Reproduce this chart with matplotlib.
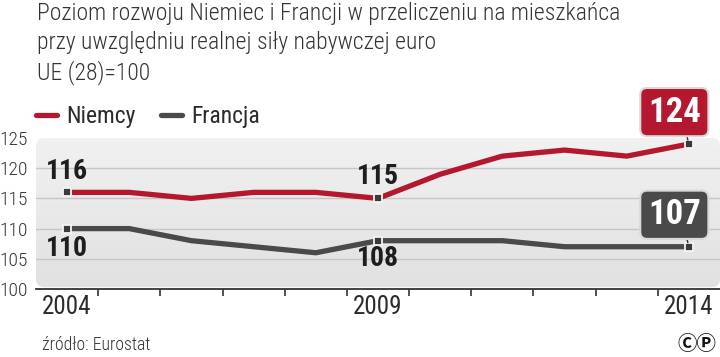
import numpy as np
import matplotlib
matplotlib.use("Agg")
import matplotlib.pyplot as plt
from matplotlib.patches import FancyBboxPatch

# dane
years = [2004, 2005, 2006, 2007, 2008, 2009, 2010, 2011, 2012, 2013, 2014]
niemcy = [116, 116, 115, 116, 116, 115, 119, 122, 123, 122, 124]
francja = [110, 110, 108, 107, 106, 108, 108, 108, 107, 107, 107]
yticks = [100, 105, 110, 115, 120, 125]
xlabels = [2004, 2009, 2014]
marked = [0, 5, 10]   # punkty z etykietami

title = ("Poziom rozwoju Niemiec i Francji w przeliczeniu na mieszkańca\n"
         "przy uwzględniu realnej siły nabywczej euro\n"
         "UE (28)=100")

RED = "#b3182f"
GREY = "#4a4a4a"
TXT = "#2b2b2b"
FONT = ["Roboto Condensed", "DejaVu Sans"]

plt.rcParams["font.family"] = FONT

fig = plt.figure(figsize=(7.2, 3.57), dpi=100)
ax = fig.add_axes([0.05, 68 / 357, 0.95, 151 / 357])

# tło z gradientem i zaokrąglonymi rogami
box = FancyBboxPatch((0, 0.012), 1, 0.988, boxstyle="round,pad=0,rounding_size=0.012",
                     mutation_aspect=4.5, transform=ax.transAxes,
                     facecolor="none", edgecolor="none")
ax.add_patch(box)
grad = np.linspace(0, 1, 100).reshape(-1, 1)
bg = ax.imshow(grad, extent=(0, 1, 0, 1), transform=ax.transAxes, aspect="auto",
               cmap=matplotlib.colors.LinearSegmentedColormap.from_list("g", ["#f1f1f1", "#e1e1e1"]),
               origin="upper", zorder=0)
bg.set_clip_path(box)

l1, = ax.plot(years, niemcy, color=RED, lw=3.8, solid_joinstyle="round",
              solid_capstyle="round", zorder=3, label="Niemcy")
l2, = ax.plot(years, francja, color=GREY, lw=3.8, solid_joinstyle="round",
              solid_capstyle="round", zorder=3, label="Francja")
for s in (niemcy, francja):
    ax.plot([years[i] for i in marked], [s[i] for i in marked], ls="none", marker="s",
            ms=6, mfc="#3a3a3a", mec="#f4f4f4", mew=1.3, zorder=4)

ax.set_xlim(2003.5, 2014.5)
ax.set_ylim(100, 125)
ax.set_yticks(yticks)
ax.set_xticks(xlabels)
ax.set_xticks([y + 0.5 for y in years[:-1]], minor=True)
ax.tick_params(axis="y", length=0, pad=6, labelsize=14, labelcolor="#333333")
ax.tick_params(axis="x", which="major", length=0, pad=4, labelsize=18, labelcolor=TXT)
ax.tick_params(axis="x", which="minor", length=5, width=1.2, color="#333333", direction="out")
for lab in ax.get_yticklabels():
    lab.set_fontweight("light")

ax.grid(axis="y", color="#c6c6c6", lw=1, zorder=1)
gl = ax.yaxis.get_gridlines()
gl[0].set_visible(False)
gl[-1].set_visible(False)
for g in gl:
    g.set_clip_path(box)

for sp in ("top", "right", "left"):
    ax.spines[sp].set_visible(False)
ax.spines["bottom"].set_color("#333333")
ax.spines["bottom"].set_linewidth(1.3)

# etykiety wartości
lab_kw = dict(textcoords="offset points", ha="center", va="center",
              fontsize=20, fontweight="bold", color="#1e1e1e", zorder=5)
ax.annotate(str(niemcy[0]), (years[0], niemcy[0]), xytext=(0, 15), **lab_kw)
ax.annotate(str(francja[0]), (years[0], francja[0]), xytext=(0, -14), **lab_kw)
ax.annotate(str(niemcy[5]), (years[5], niemcy[5]), xytext=(0, 16), **lab_kw)
ax.annotate(str(francja[5]), (years[5], francja[5]), xytext=(0, -13), **lab_kw)

for s, c in ((niemcy, RED), (francja, GREY)):
    ax.annotate(str(s[-1]), (years[-1], s[-1]), xytext=(-10.5, 23),
                textcoords="offset points", ha="center", va="center",
                fontsize=25, fontweight="bold", color="white", zorder=6,
                bbox=dict(boxstyle="round,pad=0.22,rounding_size=0.2", fc=c,
                          ec="#d9d9d9", lw=1.5),
                arrowprops=dict(arrowstyle="-", color="#333333", lw=1,
                                relpos=(0.70, 0), shrinkA=0, shrinkB=3))

fig.legend(handles=[l1, l2], loc="center left", bbox_to_anchor=(36 / 720, 1 - 117 / 357),
           frameon=False, ncol=2, fontsize=17, handlelength=0.9, handletextpad=0.4,
           columnspacing=1.05, borderpad=0, borderaxespad=0, labelcolor=TXT)

fig.text(37 / 720, 1 - 2 / 357, title, ha="left", va="top", fontsize=17,
         fontweight="light", color="#333333", linespacing=1.34)
fig.text(42 / 720, 1 - 345 / 357, "źródło: Eurostat", ha="left", va="center",
         fontsize=12.8, fontweight="light", color="#333333")
fig.text(716 / 720, 1 - 345 / 357, "ⒸⓅ", ha="right", va="center", fontsize=14,
         fontweight="bold", color="#111111",
         family=["Noto Sans CJK JP", "Noto Sans Symbols", "DejaVu Sans"])

fig.savefig("out.png", dpi=100)
